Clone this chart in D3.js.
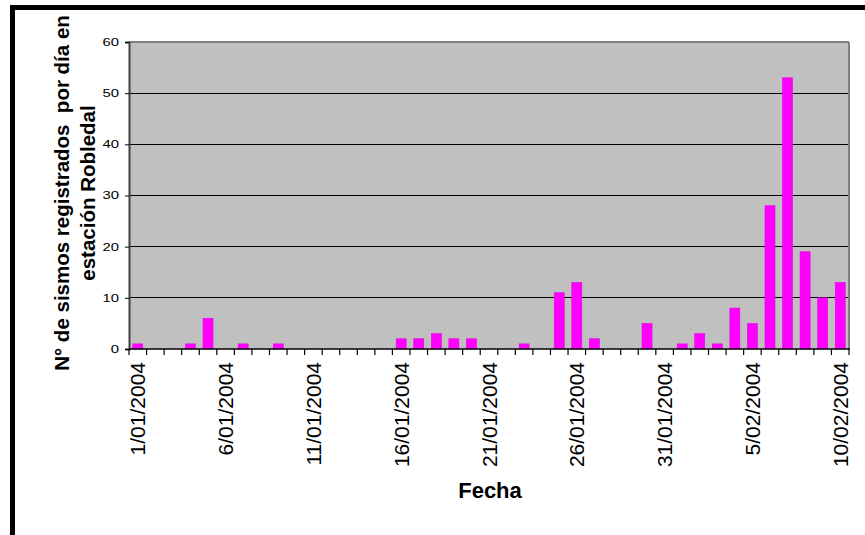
<!DOCTYPE html>
<html>
<head>
<meta charset="utf-8">
<script src="https://cdn.jsdelivr.net/npm/d3@7/dist/d3.min.js"></script>
<style>
  html, body { margin: 0; padding: 0; background: #fff; }
  svg { display: block; font-family: Arial, "Liberation Sans", sans-serif; }
  text { white-space: pre; }
</style>
</head>
<body>
<svg id="chart" width="865" height="535"></svg>
<script>
// ---- data ----
const dates = [
  "1/01/2004","2/01/2004","3/01/2004","4/01/2004","5/01/2004","6/01/2004","7/01/2004","8/01/2004","9/01/2004","10/01/2004",
  "11/01/2004","12/01/2004","13/01/2004","14/01/2004","15/01/2004","16/01/2004","17/01/2004","18/01/2004","19/01/2004","20/01/2004",
  "21/01/2004","22/01/2004","23/01/2004","24/01/2004","25/01/2004","26/01/2004","27/01/2004","28/01/2004","29/01/2004","30/01/2004",
  "31/01/2004","1/02/2004","2/02/2004","3/02/2004","4/02/2004","5/02/2004","6/02/2004","7/02/2004","8/02/2004","9/02/2004",
  "10/02/2004"
];
const sismos = [
  1,0,0,1,6,0,1,0,1,0,
  0,0,0,0,0,2,2,3,2,2,
  0,0,1,0,11,13,2,0,0,5,
  0,1,3,1,8,5,28,53,19,10,
  13
];
const yTicks = [0,10,20,30,40,50,60];
const xLabelDates = ["1/01/2004","6/01/2004","11/01/2004","16/01/2004","21/01/2004","26/01/2004","31/01/2004","5/02/2004","10/02/2004"];
const yTitleLines = ["N° de sismos registrados  por día en", "estación Robledal"];
const xTitle = "Fecha";

// ---- layout ----
const svg = d3.select("#chart");
const L = 129, R = 849, T = 42, B = 349;

const x = d3.scaleBand().domain(dates).range([L, R]).paddingInner(0.43).paddingOuter(0.215);
const y = d3.scaleLinear().domain([0, 60]).range([B, T]);

// plot background
svg.append("rect").attr("x", L).attr("y", T).attr("width", R - L).attr("height", B - T)
  .attr("fill", "#C0C0C0");

// gridlines
svg.append("g").selectAll("line").data(yTicks.filter(d => d > 0 && d < 60)).join("line")
  .attr("x1", L).attr("x2", R).attr("y1", d => y(d)).attr("y2", d => y(d))
  .attr("stroke", "#000").attr("stroke-width", 1).attr("shape-rendering", "crispEdges");

// plot border top/right
svg.append("line").attr("x1", L).attr("x2", R).attr("y1", T).attr("y2", T)
  .attr("stroke", "#808080").attr("stroke-width", 2);
svg.append("line").attr("x1", R).attr("x2", R).attr("y1", T).attr("y2", B)
  .attr("stroke", "#808080").attr("stroke-width", 2);

// bars
svg.append("g").selectAll("rect").data(dates.map((d, i) => ({d, v: sismos[i]})).filter(o => o.v > 0)).join("rect")
  .attr("x", o => x(o.d)).attr("width", x.bandwidth())
  .attr("y", o => y(o.v)).attr("height", o => y(0) - y(o.v))
  .attr("fill", "#FF00FF").attr("stroke", "#E600E6").attr("stroke-width", 0.6);

// y axis
const yAxis = d3.axisLeft(y).tickValues(yTicks).tickSize(4).tickFormat(d => "");
const yg = svg.append("g").attr("transform", `translate(${L},0)`).call(yAxis);
yg.select(".domain").attr("stroke", "#404040").attr("stroke-width", 2);
yg.selectAll(".tick line").attr("stroke", "#000");
svg.append("g").selectAll("text").data(yTicks).join("text")
  .attr("transform", d => `translate(119,${y(d)}) scale(1.35,1)`)
  .attr("dy", "0.35em").attr("text-anchor", "end")
  .attr("font-size", 11).attr("fill", "#000").text(d => d);

// x axis
const xg = svg.append("g").attr("transform", `translate(0,${B})`);
xg.append("line").attr("x1", L).attr("x2", R + 1).attr("y1", 0).attr("y2", 0)
  .attr("stroke", "#000").attr("stroke-width", 1.5);
const step = x.step();
const boundaries = dates.map((d, i) => L + i * step).concat([R]);
xg.selectAll("line.tk").data(boundaries).join("line").attr("class", "tk")
  .attr("x1", d => d).attr("x2", d => d).attr("y1", 0).attr("y2", 6)
  .attr("stroke", "#000").attr("stroke-width", 1.2);
svg.append("g").selectAll("text").data(xLabelDates).join("text")
  .attr("transform", d => `translate(${x(d) + x.bandwidth() / 2},362) rotate(-90)`)
  .attr("dy", "0.36em").attr("text-anchor", "end")
  .attr("font-size", 21).attr("fill", "#000").text(d => d);

// axis titles
svg.append("text").attr("x", 490).attr("y", 498).attr("text-anchor", "middle")
  .attr("font-size", 22).attr("font-weight", "bold").text(xTitle);
const yt = svg.append("text").attr("transform", "translate(0,193) rotate(-90)")
  .attr("text-anchor", "middle").attr("font-size", 20.5).attr("font-weight", "bold");
yt.selectAll("tspan").data(yTitleLines).join("tspan")
  .attr("x", 0).attr("y", (d, i) => i === 0 ? 69 : 95).text(d => d);

// outer frame (only top and left visible), drawn on top
svg.append("rect").attr("x", 12.5).attr("y", 7.5).attr("width", 900).attr("height", 600)
  .attr("fill", "none").attr("stroke", "#000").attr("stroke-width", 5);
</script>
</body>
</html>
